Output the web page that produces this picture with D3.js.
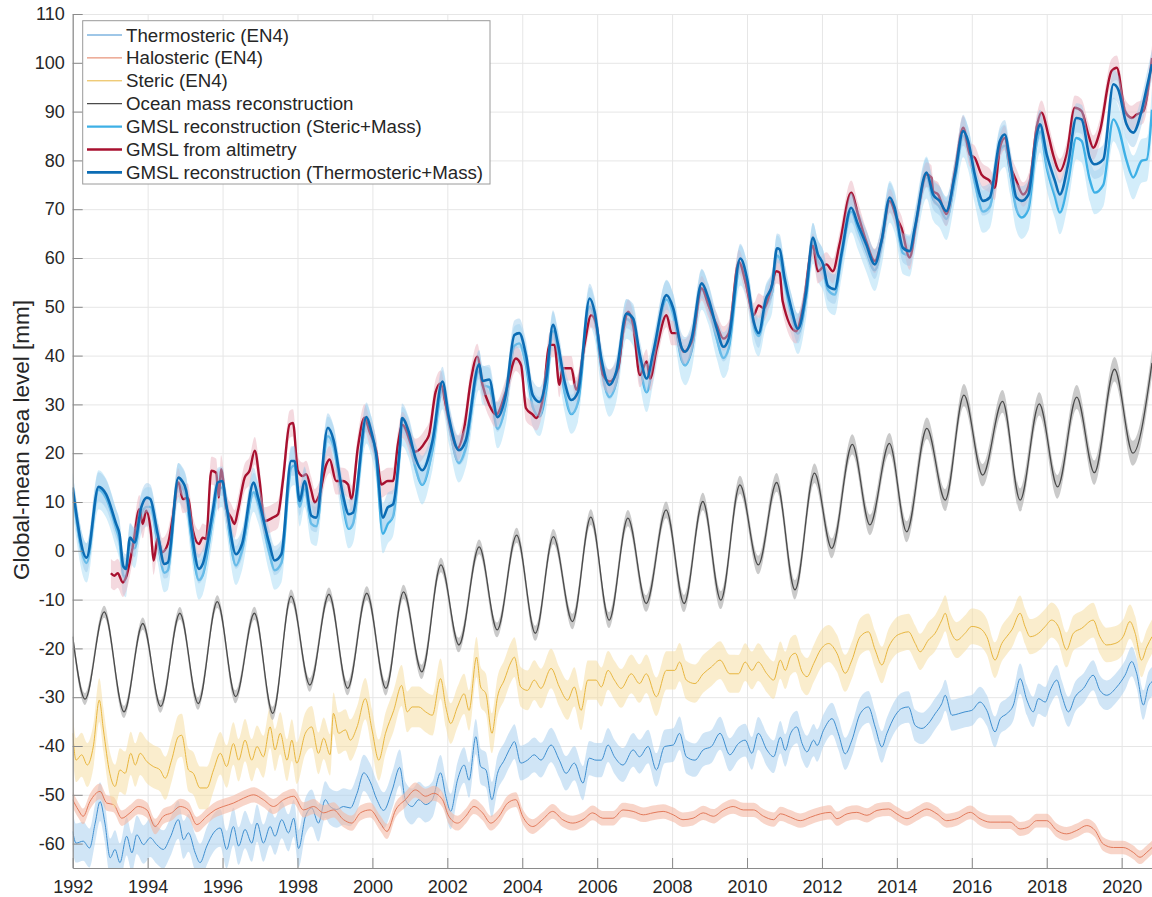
<!DOCTYPE html>
<html>
<head>
<meta charset="utf-8">
<script src="https://cdn.jsdelivr.net/npm/d3@7"></script>
<style>
  body { margin: 0; background: #fff; }
  svg { display: block; font-family: "Liberation Sans", Arial, Helvetica, sans-serif; }
</style>
</head>
<body>
<svg width="1152" height="897"></svg>
<script>
// ===========================================================================
// DATA  (decimal year, mm)
// ===========================================================================
const xTicks = [1992, 1994, 1996, 1998, 2000, 2002, 2004, 2006, 2008, 2010, 2012, 2014, 2016, 2018, 2020];
const yTicks = [-60, -50, -40, -30, -20, -10, 0, 10, 20, 30, 40, 50, 60, 70, 80, 90, 100, 110];

const thermosteric = [
  [1992.0,-57.5],[1992.09,-59.9],[1992.28,-59.5],[1992.45,-60.9],[1992.6,-55.8],[1992.73,-51.4],[1992.86,-55.8],
  [1993.0,-62.9],[1993.13,-61.2],[1993.26,-63.9],[1993.44,-58.5],[1993.58,-61.9],[1993.71,-58.2],[1993.89,-60.2],
  [1994.07,-58.8],[1994.24,-60.2],[1994.42,-61.2],[1994.6,-58.8],[1994.82,-55.1],[1994.96,-59.2],[1995.09,-57.8],
  [1995.27,-61.9],[1995.4,-63.9],[1995.58,-60.5],[1995.76,-57.8],[1995.94,-56.8],[1996.11,-61.2],[1996.29,-56.5],
  [1996.43,-60.5],[1996.6,-57.1],[1996.78,-59.9],[1996.92,-55.8],[1997.09,-59.9],[1997.27,-56.5],[1997.4,-58.5],
  [1997.58,-55.1],[1997.76,-57.8],[1997.9,-54.8],[1998.03,-61.0],[1998.21,-54.5],[1998.38,-52.7],[1998.56,-55.8],
  [1998.74,-51.0],[1998.87,-52.4],[1999.05,-53.0],[1999.23,-52.4],[1999.41,-52.7],[1999.59,-49.7],[1999.77,-45.5],
  [1999.94,-47.3],[2000.12,-51.0],[2000.3,-53.2],[2000.53,-49.0],[2000.73,-44.4],[2000.88,-51.0],[2001.06,-52.4],
  [2001.24,-51.0],[2001.42,-52.0],[2001.6,-51.0],[2001.82,-45.5],[2001.96,-50.3],[2002.09,-53.4],[2002.27,-47.0],
  [2002.45,-43.9],[2002.58,-47.0],[2002.76,-38.1],[2002.89,-44.2],[2003.03,-44.9],[2003.19,-51.0],[2003.34,-45.6],
  [2003.52,-42.9],[2003.7,-40.1],[2003.79,-39.1],[2003.96,-43.5],[2004.14,-42.9],[2004.32,-41.8],[2004.5,-42.9],
  [2004.77,-39.8],[2004.99,-42.9],[2005.17,-45.6],[2005.39,-43.5],[2005.62,-47.6],[2005.79,-42.5],[2005.97,-42.9],
  [2006.11,-42.9],[2006.29,-39.8],[2006.46,-42.2],[2006.69,-43.9],[2006.96,-40.8],[2007.13,-42.2],[2007.36,-40.1],
  [2007.58,-44.9],[2007.8,-40.1],[2008.03,-39.8],[2008.2,-37.4],[2008.38,-42.2],[2008.61,-42.9],[2008.83,-40.8],
  [2009.05,-40.1],[2009.28,-37.4],[2009.54,-41.8],[2009.77,-39.5],[2009.95,-38.8],[2010.13,-41.5],[2010.3,-37.4],
  [2010.53,-40.8],[2010.71,-42.2],[2010.89,-38.2],[2011.02,-40.9],[2011.16,-37.5],[2011.33,-36.1],[2011.47,-39.5],
  [2011.6,-41.2],[2011.78,-38.8],[2011.87,-39.9],[2012.04,-36.8],[2012.27,-34.4],[2012.44,-37.5],[2012.62,-41.6],
  [2012.8,-38.8],[2013.02,-33.4],[2013.24,-32.0],[2013.42,-36.1],[2013.6,-40.2],[2013.73,-37.5],[2013.96,-33.7],
  [2014.13,-32.3],[2014.31,-32.0],[2014.49,-35.8],[2014.67,-36.4],[2014.84,-35.4],[2015.02,-33.4],[2015.2,-31.3],
  [2015.29,-29.6],[2015.47,-33.7],[2015.64,-33.4],[2015.82,-33.0],[2016.0,-32.7],[2016.22,-31.0],[2016.4,-32.7],
  [2016.62,-37.1],[2016.76,-34.4],[2016.93,-33.4],[2017.11,-31.6],[2017.29,-26.2],[2017.47,-30.6],[2017.64,-33.0],
  [2017.78,-30.3],[2017.96,-31.0],[2018.09,-28.6],[2018.27,-26.5],[2018.4,-29.6],[2018.58,-33.0],[2018.76,-29.9],
  [2018.98,-28.2],[2019.24,-25.5],[2019.42,-28.6],[2019.6,-29.6],[2019.87,-27.9],[2020.09,-25.5],[2020.27,-22.7],
  [2020.4,-25.1],[2020.58,-31.6],[2020.71,-27.9],[2020.81,-26.8]
];

const halosteric = [
  [1992.0,-51.0],[1992.15,-53.1],[1992.28,-54.4],[1992.46,-51.4],[1992.73,-49.3],[1992.91,-51.7],[1993.09,-52.0],
  [1993.31,-54.8],[1993.53,-53.7],[1993.75,-52.4],[1993.98,-53.1],[1994.2,-56.5],[1994.42,-54.4],[1994.64,-53.7],
  [1994.87,-52.4],[1995.09,-53.1],[1995.31,-56.1],[1995.58,-54.4],[1995.8,-53.1],[1996.02,-52.4],[1996.29,-51.7],
  [1996.56,-50.7],[1996.83,-50.0],[1997.09,-51.0],[1997.36,-52.4],[1997.63,-51.0],[1997.9,-50.3],[1998.16,-53.1],
  [1998.43,-52.4],[1998.7,-53.7],[1998.96,-53.1],[1999.23,-55.1],[1999.45,-55.8],[1999.68,-53.7],[1999.94,-53.1],
  [2000.21,-55.8],[2000.39,-57.5],[2000.62,-53.1],[2000.88,-51.0],[2001.15,-49.0],[2001.42,-50.3],[2001.64,-49.7],
  [2001.87,-51.0],[2002.04,-54.4],[2002.27,-55.8],[2002.49,-54.4],[2002.71,-52.4],[2002.94,-53.7],[2003.16,-55.8],
  [2003.38,-54.4],[2003.61,-51.7],[2003.83,-51.0],[2004.01,-54.4],[2004.28,-56.5],[2004.54,-55.1],[2004.81,-53.4],
  [2005.08,-55.1],[2005.35,-55.8],[2005.62,-55.1],[2005.88,-53.7],[2006.15,-54.8],[2006.42,-54.8],[2006.69,-53.1],
  [2006.96,-53.4],[2007.23,-54.1],[2007.49,-53.7],[2007.76,-53.4],[2008.03,-54.1],[2008.29,-55.1],[2008.56,-54.8],
  [2008.83,-53.7],[2009.1,-54.4],[2009.37,-53.1],[2009.63,-52.4],[2009.9,-53.1],[2010.17,-53.1],[2010.44,-54.4],
  [2010.71,-55.1],[2010.89,-53.9],[2011.16,-54.6],[2011.42,-55.3],[2011.69,-54.6],[2011.96,-53.9],[2012.22,-53.6],
  [2012.4,-54.9],[2012.67,-53.9],[2012.93,-53.6],[2013.2,-54.2],[2013.47,-53.2],[2013.78,-52.9],[2014.0,-53.9],
  [2014.27,-54.9],[2014.53,-53.9],[2014.8,-52.9],[2015.07,-53.9],[2015.33,-55.3],[2015.6,-54.9],[2015.96,-53.6],
  [2016.22,-54.9],[2016.49,-55.6],[2016.76,-55.6],[2017.02,-55.6],[2017.29,-57.0],[2017.51,-56.6],[2017.73,-55.3],
  [2018.0,-55.3],[2018.27,-57.3],[2018.53,-58.0],[2018.8,-57.3],[2019.07,-56.3],[2019.29,-57.3],[2019.51,-60.1],
  [2019.78,-60.8],[2020.04,-60.8],[2020.31,-61.8],[2020.49,-62.8],[2020.67,-61.8],[2020.81,-60.8]
];

const steric = [
  [1992.0,-37.4],[1992.09,-42.9],[1992.24,-41.8],[1992.39,-43.9],[1992.55,-40.1],[1992.71,-30.6],[1992.82,-36.7],
  [1992.99,-45.6],[1993.13,-48.3],[1993.26,-44.9],[1993.4,-45.6],[1993.55,-41.5],[1993.67,-43.9],[1993.8,-41.5],
  [1993.98,-43.2],[1994.15,-44.2],[1994.33,-44.9],[1994.47,-46.6],[1994.64,-42.9],[1994.82,-38.1],[1994.91,-37.8],
  [1995.09,-44.9],[1995.22,-45.6],[1995.4,-48.6],[1995.58,-48.6],[1995.76,-44.9],[1995.94,-41.5],[1996.11,-44.2],
  [1996.29,-39.5],[1996.43,-42.9],[1996.6,-38.8],[1996.78,-42.9],[1996.92,-40.1],[1997.09,-42.2],[1997.27,-36.1],
  [1997.4,-40.8],[1997.54,-37.4],[1997.72,-42.9],[1997.85,-38.8],[1997.98,-43.5],[1998.21,-37.4],[1998.38,-36.1],
  [1998.56,-41.5],[1998.7,-38.4],[1998.87,-41.8],[1998.96,-33.3],[1999.1,-37.4],[1999.28,-36.7],[1999.41,-38.8],
  [1999.59,-36.1],[1999.81,-30.3],[1999.99,-36.7],[2000.17,-42.9],[2000.35,-37.4],[2000.57,-32.7],[2000.78,-27.6],
  [2000.93,-33.0],[2001.06,-32.0],[2001.24,-32.0],[2001.42,-33.0],[2001.6,-33.7],[2001.82,-26.2],[2001.96,-32.0],
  [2002.09,-35.4],[2002.27,-32.0],[2002.45,-29.3],[2002.58,-32.7],[2002.78,-21.8],[2002.89,-27.9],[2003.03,-29.3],
  [2003.19,-37.4],[2003.34,-29.9],[2003.52,-26.5],[2003.7,-22.8],[2003.79,-21.8],[2003.96,-27.9],[2004.14,-28.6],
  [2004.32,-26.5],[2004.5,-28.2],[2004.77,-24.1],[2004.99,-27.9],[2005.21,-30.6],[2005.39,-27.9],[2005.57,-32.7],
  [2005.75,-26.5],[2005.97,-26.5],[2006.11,-27.9],[2006.29,-24.5],[2006.46,-26.5],[2006.64,-28.2],[2006.91,-25.2],
  [2007.13,-27.2],[2007.31,-25.2],[2007.58,-29.9],[2007.85,-24.5],[2008.07,-24.5],[2008.2,-22.8],[2008.38,-26.5],
  [2008.61,-27.2],[2008.83,-25.2],[2009.05,-23.8],[2009.28,-22.4],[2009.54,-25.2],[2009.77,-25.2],[2009.95,-22.8],
  [2010.13,-24.5],[2010.3,-22.8],[2010.53,-25.2],[2010.71,-26.5],[2010.89,-22.4],[2011.02,-24.5],[2011.16,-21.7],
  [2011.29,-21.0],[2011.47,-24.8],[2011.6,-25.8],[2011.78,-23.1],[2011.96,-20.3],[2012.18,-19.0],[2012.4,-21.0],
  [2012.62,-25.1],[2012.8,-22.4],[2013.02,-17.6],[2013.24,-16.6],[2013.42,-20.3],[2013.6,-23.4],[2013.78,-19.7],
  [2013.96,-17.6],[2014.13,-16.9],[2014.31,-16.6],[2014.49,-19.0],[2014.62,-20.7],[2014.84,-18.3],[2015.02,-16.9],
  [2015.2,-14.2],[2015.29,-12.8],[2015.42,-16.2],[2015.6,-18.3],[2015.82,-16.9],[2016.0,-15.5],[2016.22,-15.9],
  [2016.4,-17.6],[2016.62,-22.4],[2016.8,-19.0],[2016.93,-17.6],[2017.07,-16.2],[2017.29,-12.8],[2017.42,-15.5],
  [2017.56,-17.6],[2017.78,-16.9],[2017.96,-15.5],[2018.13,-14.2],[2018.31,-15.5],[2018.53,-20.3],[2018.71,-16.9],
  [2018.93,-15.9],[2019.24,-14.2],[2019.42,-17.6],[2019.6,-19.3],[2019.82,-19.0],[2020.04,-17.6],[2020.22,-14.5],
  [2020.36,-16.9],[2020.53,-22.4],[2020.67,-19.7],[2020.81,-17.6]
];

const oceanMass = [
  [1992.0,-17.6],[1992.33,-30.4],[1992.84,-12.5],[1993.37,-33.0],[1993.87,-14.9],[1994.35,-31.9],[1994.86,-12.8],
  [1995.35,-31.3],[1995.86,-10.4],[1996.35,-29.9],[1996.85,-12.8],[1997.34,-33.3],[1997.83,-9.3],[1998.33,-27.5],
  [1998.84,-8.9],[1999.34,-28.2],[1999.85,-8.7],[2000.36,-28.2],[2000.83,-8.4],[2001.32,-24.8],[2001.83,-2.9],
  [2002.31,-19.3],[2002.85,0.8],[2003.33,-16.2],[2003.85,3.2],[2004.35,-16.9],[2004.83,2.9],[2005.34,-14.5],
  [2005.83,6.9],[2006.32,-14.2],[2006.82,6.7],[2007.31,-10.8],[2007.84,8.4],[2008.32,-10.8],[2008.82,10.1],
  [2009.3,-10.1],[2009.81,13.5],[2010.3,-2.9],[2010.79,14.0],[2011.28,-8.0],[2011.8,15.9],[2012.26,0.5],
  [2012.81,21.8],[2013.28,5.3],[2013.8,22.0],[2014.26,3.9],[2014.8,25.1],[2015.29,10.4],[2015.79,31.9],
  [2016.29,15.5],[2016.82,30.6],[2017.29,10.4],[2017.8,30.1],[2018.29,13.1],[2018.8,31.5],[2019.27,16.0],
  [2019.81,37.2],[2020.3,20.0],[2020.81,38.5]
];

const gmslStericMass = [
  [1992.0,12.0],[1992.37,-2.5],[1992.69,12.5],[1992.89,10.8],[1993.16,4.5],[1993.25,2.0],[1993.35,-5.0],[1993.42,-5.5],
  [1993.53,1.5],[1993.65,0.5],[1993.83,7.5],[1993.98,9.0],[1994.07,9.0],[1994.27,1.5],[1994.45,-4.5],[1994.54,-4.0],
  [1994.82,14.0],[1994.92,13.0],[1995.03,11.0],[1995.16,3.0],[1995.37,-6.0],[1995.47,-5.0],[1995.74,6.5],[1995.87,12.5],
  [1995.99,13.0],[1996.1,8.0],[1996.36,-3.0],[1996.52,0.0],[1996.83,12.0],[1996.94,10.0],[1997.25,-0.5],[1997.39,-4.0],
  [1997.57,-2.5],[1997.83,17.0],[1997.92,17.5],[1998.06,9.0],[1998.19,13.0],[1998.37,5.5],[1998.5,5.0],[1998.81,23.5],
  [1998.96,21.5],[1999.21,9.5],[1999.37,4.5],[1999.48,5.5],[1999.84,26.0],[1999.97,23.5],[2000.1,18.5],[2000.28,3.5],
  [2000.41,5.5],[2000.55,7.0],[2000.73,20.0],[2000.79,25.5],[2000.97,23.0],[2001.15,17.0],[2001.33,13.5],[2001.6,20.5],
  [2001.87,33.0],[2002.04,26.0],[2002.31,18.0],[2002.49,21.0],[2002.85,37.0],[2002.94,34.0],[2003.12,33.5],[2003.34,25.0],
  [2003.56,30.0],[2003.79,42.0],[2003.92,42.5],[2004.1,38.0],[2004.28,29.5],[2004.46,27.5],[2004.64,33.0],[2004.82,45.0],
  [2004.95,41.0],[2005.13,32.5],[2005.31,28.0],[2005.49,30.5],[2005.8,50.0],[2005.93,47.5],[2006.11,37.5],[2006.33,31.5],
  [2006.51,34.5],[2006.78,47.5],[2006.96,46.0],[2007.14,38.0],[2007.32,32.5],[2007.5,38.5],[2007.85,51.5],[2008.03,48.5],
  [2008.26,39.0],[2008.35,38.0],[2008.52,41.0],[2008.79,53.5],[2008.97,50.5],[2009.19,43.5],[2009.37,39.5],[2009.51,41.5],
  [2009.82,58.5],[2010.0,55.0],[2010.18,46.0],[2010.31,44.0],[2010.5,50.0],[2010.67,53.0],[2010.8,60.5],[2010.87,60.0],
  [2011.0,55.0],[2011.18,48.5],[2011.36,44.5],[2011.58,52.0],[2011.76,63.0],[2011.89,59.5],[2012.03,57.5],[2012.16,53.5],
  [2012.34,52.5],[2012.52,60.0],[2012.78,69.5],[2012.96,66.0],[2013.18,61.5],[2013.41,57.5],[2013.59,62.5],[2013.81,71.5],
  [2013.94,69.5],[2014.16,61.0],[2014.34,60.5],[2014.48,65.5],[2014.79,76.5],[2014.97,72.0],[2015.14,70.5],[2015.32,68.0],
  [2015.55,76.0],[2015.77,85.0],[2015.9,82.5],[2016.08,75.5],[2016.3,69.5],[2016.48,70.5],[2016.75,82.0],[2016.88,83.0],
  [2017.02,77.5],[2017.19,70.0],[2017.33,68.3],[2017.51,70.0],[2017.73,83.5],[2017.82,86.0],[2018.0,78.5],[2018.22,72.5],
  [2018.35,69.3],[2018.57,75.5],[2018.79,84.6],[2018.93,84.0],[2019.15,76.0],[2019.28,73.4],[2019.51,75.0],[2019.78,88.4],
  [2019.91,86.7],[2020.13,80.0],[2020.31,76.5],[2020.53,79.9],[2020.67,80.2],[2020.81,90.4]
];

const gmslAltimetry = [
  [1993.02,-4.6],[1993.11,-5.1],[1993.2,-4.6],[1993.34,-6.5],[1993.42,-5.5],[1993.6,0.7],[1993.78,8.5],[1993.87,5.5],
  [1993.96,8.2],[1994.09,3.7],[1994.16,-2.0],[1994.27,2.7],[1994.39,-0.3],[1994.54,1.4],[1994.67,6.8],[1994.82,14.0],
  [1994.94,10.6],[1995.07,10.9],[1995.21,4.1],[1995.37,1.4],[1995.47,2.7],[1995.56,2.4],[1995.7,16.4],[1995.83,16.0],
  [1995.9,10.9],[1995.96,16.7],[1996.1,8.9],[1996.23,6.8],[1996.32,5.5],[1996.41,8.2],[1996.59,15.0],[1996.72,16.4],
  [1996.86,20.5],[1996.99,14.3],[1997.12,6.1],[1997.34,6.8],[1997.48,7.5],[1997.61,14.3],[1997.79,25.9],[1997.88,26.2],
  [1998.01,16.4],[1998.14,15.3],[1998.23,15.7],[1998.37,12.3],[1998.46,9.9],[1998.59,11.6],[1998.77,17.7],[1998.86,18.7],
  [1999.03,14.3],[1999.21,14.3],[1999.35,13.6],[1999.44,10.6],[1999.61,21.1],[1999.79,27.3],[1999.92,24.5],[2000.1,20.5],
  [2000.24,13.6],[2000.41,14.3],[2000.55,14.3],[2000.68,21.8],[2000.8,25.8],[2001.15,20.3],[2001.42,22.4],[2001.51,23.7],
  [2001.69,32.6],[2001.82,34.3],[2001.96,29.9],[2002.09,25.1],[2002.27,21.0],[2002.45,25.1],[2002.63,35.0],[2002.8,39.8],
  [2002.94,34.0],[2003.12,29.9],[2003.3,27.9],[2003.56,32.6],[2003.83,39.4],[2003.97,38.0],[2004.1,29.2],[2004.28,27.9],
  [2004.37,27.2],[2004.55,31.3],[2004.73,42.2],[2004.86,42.2],[2004.99,34.0],[2005.08,37.4],[2005.31,37.4],[2005.44,33.0],
  [2005.66,42.2],[2005.84,48.3],[2005.98,46.3],[2006.16,36.0],[2006.33,34.7],[2006.56,37.4],[2006.69,44.9],[2006.83,49.0],
  [2006.96,46.3],[2007.14,36.0],[2007.32,38.8],[2007.41,35.3],[2007.59,41.5],[2007.85,48.3],[2007.99,44.6],[2008.12,44.6],
  [2008.3,40.8],[2008.52,42.8],[2008.79,53.8],[2008.97,50.3],[2009.19,46.3],[2009.37,43.5],[2009.51,44.6],[2009.78,59.2],
  [2009.96,55.1],[2010.18,48.3],[2010.31,50.3],[2010.45,49.7],[2010.62,53.1],[2010.78,57.3],[2010.87,57.0],[2010.95,51.2],
  [2011.31,45.0],[2011.49,49.8],[2011.76,62.5],[2011.89,57.3],[2012.12,58.7],[2012.29,57.3],[2012.47,62.8],[2012.78,73.4],
  [2012.96,69.0],[2013.18,63.5],[2013.41,59.4],[2013.59,63.5],[2013.81,71.7],[2013.99,68.3],[2014.12,66.2],[2014.34,60.1],
  [2014.52,67.6],[2014.79,77.1],[2014.92,76.5],[2014.97,73.7],[2015.1,73.0],[2015.32,69.0],[2015.55,77.8],[2015.77,86.7],
  [2015.95,81.2],[2016.08,80.5],[2016.26,77.1],[2016.48,75.8],[2016.61,74.4],[2016.75,82.6],[2016.88,84.6],[2017.02,79.2],
  [2017.19,75.8],[2017.37,73.0],[2017.55,75.8],[2017.73,86.7],[2017.86,89.8],[2018.04,85.3],[2018.17,81.2],[2018.35,77.8],
  [2018.53,81.2],[2018.75,90.8],[2018.93,90.1],[2019.11,85.3],[2019.24,82.6],[2019.42,86.0],[2019.73,98.3],[2019.87,99.0],
  [2020.09,90.1],[2020.27,88.7],[2020.4,89.4],[2020.58,90.1],[2020.81,101.0]
];

const gmslThermoMass = [
  [1992.0,13.0],[1992.37,-1.4],[1992.69,13.1],[1992.89,11.6],[1993.16,5.5],[1993.25,3.4],[1993.35,-3.1],[1993.42,-3.7],
  [1993.53,2.7],[1993.65,1.7],[1993.83,8.9],[1993.98,10.9],[1994.07,10.6],[1994.27,3.4],[1994.45,-2.7],[1994.54,-2.4],
  [1994.82,15.0],[1994.92,14.3],[1995.03,12.3],[1995.16,4.8],[1995.37,-3.7],[1995.47,-2.7],[1995.74,8.2],[1995.87,14.0],
  [1995.99,14.3],[1996.1,9.5],[1996.36,-0.7],[1996.52,1.4],[1996.83,14.0],[1996.94,11.2],[1997.25,1.4],[1997.39,-2.0],
  [1997.57,-0.7],[1997.83,18.4],[1997.92,18.4],[1998.06,10.2],[1998.19,14.3],[1998.37,7.2],[1998.5,6.8],[1998.81,25.2],
  [1998.96,22.8],[1999.21,11.6],[1999.37,7.5],[1999.48,7.8],[1999.84,27.4],[1999.97,24.5],[2000.1,19.8],[2000.28,6.8],
  [2000.41,8.9],[2000.55,9.5],[2000.73,21.1],[2000.79,27.2],[2000.97,24.4],[2001.15,19.0],[2001.33,16.5],[2001.6,22.4],
  [2001.87,34.7],[2002.04,27.4],[2002.31,20.6],[2002.49,22.6],[2002.85,38.2],[2002.94,34.8],[2003.12,35.1],[2003.34,27.4],
  [2003.56,32.0],[2003.79,44.2],[2003.92,44.6],[2004.1,40.1],[2004.28,31.9],[2004.46,30.5],[2004.64,35.3],[2004.82,46.3],
  [2004.95,42.5],[2005.13,34.7],[2005.31,30.9],[2005.49,32.6],[2005.8,51.7],[2005.93,49.0],[2006.11,39.4],[2006.33,34.0],
  [2006.51,36.7],[2006.78,48.6],[2006.96,47.6],[2007.14,40.1],[2007.32,35.3],[2007.5,40.8],[2007.85,52.4],[2008.03,49.7],
  [2008.26,41.5],[2008.35,40.8],[2008.52,43.5],[2008.79,54.8],[2008.97,51.7],[2009.19,45.6],[2009.37,41.8],[2009.51,43.5],
  [2009.82,59.9],[2010.0,55.8],[2010.18,46.9],[2010.31,44.6],[2010.5,51.5],[2010.67,54.5],[2010.8,62.0],[2010.87,61.8],
  [2011.0,56.0],[2011.18,49.8],[2011.36,45.5],[2011.58,53.2],[2011.76,64.2],[2011.89,60.8],[2012.03,58.7],[2012.16,54.3],
  [2012.34,53.6],[2012.52,60.8],[2012.78,70.3],[2012.96,66.9],[2013.18,62.8],[2013.41,58.7],[2013.59,63.5],[2013.81,72.4],
  [2013.94,70.3],[2014.16,62.1],[2014.34,61.4],[2014.48,66.2],[2014.79,77.5],[2014.97,73.0],[2015.14,71.7],[2015.32,69.6],
  [2015.55,77.1],[2015.77,86.0],[2015.9,84.0],[2016.08,77.1],[2016.3,71.7],[2016.48,72.4],[2016.75,84.0],[2016.88,85.3],
  [2017.02,79.9],[2017.19,72.4],[2017.33,71.7],[2017.51,73.0],[2017.73,85.3],[2017.82,87.4],[2018.0,81.2],[2018.22,75.8],
  [2018.35,73.0],[2018.57,79.2],[2018.79,88.7],[2018.93,88.4],[2019.15,80.5],[2019.28,79.2],[2019.51,80.2],[2019.78,95.6],
  [2019.91,94.5],[2020.13,87.4],[2020.31,85.7],[2020.53,90.1],[2020.67,94.9],[2020.81,99.7]
];

// 1-sigma half width of the shaded bands (mm) at these years
const sigmaYears = [1992, 2006, 2020.81];
const thermostericSigma = [4.0, 3.5, 3.0];
const halostericSigma = [1.6, 1.5, 1.4];
const stericSigma = [4.5, 4.0, 3.5];
const oceanMassSigma = [1.2, 1.6, 2.6];
const gmslStericMassSigma = [4.0, 4.0, 4.5];
const gmslAltimetrySigma = [3.0, 2.5, 2.5];
const gmslThermoMassSigma = [3.0, 3.0, 3.0];

const seriesNames = [
  "Thermosteric (EN4)",
  "Halosteric (EN4)",
  "Steric (EN4)",
  "Ocean mass reconstruction",
  "GMSL reconstruction (Steric+Mass)",
  "GMSL from altimetry",
  "GMSL reconstruction (Thermosteric+Mass)"
];
const seriesData = [thermosteric, halosteric, steric, oceanMass, gmslStericMass, gmslAltimetry, gmslThermoMass];
const seriesSigma = [thermostericSigma, halostericSigma, stericSigma, oceanMassSigma, gmslStericMassSigma, gmslAltimetrySigma, gmslThermoMassSigma];
const lineColors = ["#3f8fd0", "#e27a5b", "#e8b63f", "#4a4a4a", "#3eb0e6", "#a8102f", "#0b6cb4"];
const bandColors = ["#a9d0ee", "#f3b9a5", "#f5dc9c", "#b3b3b3", "#a8dcf5", "#e9b4c0", "#9cc9ea"];
const bandOpacity = [0.55, 0.6, 0.5, 0.7, 0.5, 0.5, 0.45];
const lineWidths = [1, 1, 1, 1.3, 2.4, 2.4, 2.6];

// ===========================================================================
// SETUP
// ===========================================================================
var svg = d3.select("svg"),
  plotLeft = 72.7,
  plotRight = 1152,
  plotTop = 14,
  plotBottom = 868;

var x = d3.scaleLinear().domain([1992, 2020.81]).range([plotLeft, plotRight]);
var y = d3.scaleLinear().domain([-65, 110]).range([plotBottom, plotTop]);

svg.append("defs").append("clipPath").attr("id", "plot-clip")
  .append("rect")
  .attr("x", plotLeft).attr("y", plotTop)
  .attr("width", plotRight - plotLeft).attr("height", plotBottom - plotTop);

// ===========================================================================
// GRID
// ===========================================================================
var grid = svg.append("g").attr("class", "grid");

grid.append("g")
  .attr("transform", "translate(0," + plotBottom + ")")
  .call(d3.axisBottom(x).tickValues(xTicks).tickSize(-(plotBottom - plotTop)).tickFormat(""));

grid.append("g")
  .attr("transform", "translate(" + plotLeft + ",0)")
  .call(d3.axisLeft(y).tickValues(yTicks).tickSize(-(plotRight - plotLeft)).tickFormat(""));

grid.selectAll(".domain").remove();
grid.selectAll("line").attr("stroke", "#e6e6e6").attr("stroke-width", 1);

// ===========================================================================
// SERIES
// ===========================================================================
var plot = svg.append("g").attr("clip-path", "url(#plot-clip)");

seriesData.forEach((data, i) => {
  var sigma = d3.scaleLinear().domain(sigmaYears).range(seriesSigma[i]);
  var curve = d3.curveMonotoneX;

  var band = d3.area()
    .curve(curve)
    .x((d) => x(d[0]))
    .y0((d) => y(d[1] - sigma(d[0])))
    .y1((d) => y(d[1] + sigma(d[0])));

  var line = d3.line()
    .curve(curve)
    .x((d) => x(d[0]))
    .y((d) => y(d[1]));

  plot.append("path")
    .datum(data)
    .attr("d", band)
    .attr("fill", bandColors[i])
    .attr("fill-opacity", bandOpacity[i])
    .attr("stroke", "none");

  plot.append("path")
    .datum(data)
    .attr("d", line)
    .attr("fill", "none")
    .attr("stroke", lineColors[i])
    .attr("stroke-width", lineWidths[i])
    .attr("stroke-linejoin", "round");
});

// ===========================================================================
// AXES
// ===========================================================================
var xAxis = svg.append("g")
  .attr("transform", "translate(0," + plotBottom + ")")
  .call(d3.axisBottom(x).tickValues(xTicks).tickFormat((d) => String(d))
    .tickSizeInner(-10).tickSizeOuter(0).tickPadding(12));

// plain hyphen for negatives, as in the original
var yAxis = svg.append("g")
  .attr("transform", "translate(" + plotLeft + ",0)")
  .call(d3.axisLeft(y).tickValues(yTicks).tickFormat((d) => String(d))
    .tickSizeInner(-10).tickSizeOuter(0).tickPadding(8));

[xAxis, yAxis].forEach((ax) => {
  ax.select(".domain").attr("stroke", "#8a8a8a").attr("stroke-width", 1.2);
  ax.selectAll(".tick line").attr("stroke", "#8a8a8a");
  ax.selectAll(".tick text")
    .attr("fill", "#262626")
    .style("font-size", "18px")
    .style("font-family", "'Liberation Sans', Arial, sans-serif");
});

// ===========================================================================
// LABELS
// ===========================================================================
svg.append("text")
  .attr("transform", "translate(21,440) rotate(-90)")
  .attr("text-anchor", "middle")
  .attr("dy", "0.35em")
  .attr("fill", "#262626")
  .style("font-size", "22.5px")
  .text("Global-mean sea level [mm]");

// ===========================================================================
// LEGEND
// ===========================================================================
var legend = svg.append("g").attr("class", "legend");

legend.append("rect")
  .attr("x", 82.7).attr("y", 20.7)
  .attr("width", 407.3).attr("height", 163.3)
  .attr("fill", "#fff")
  .attr("stroke", "#9a9a9a")
  .attr("stroke-width", 1);

seriesNames.forEach((name, i) => {
  var ly = 35 + i * 22.9;
  legend.append("line")
    .attr("x1", 87).attr("x2", 122)
    .attr("y1", ly).attr("y2", ly)
    .attr("stroke", lineColors[i])
    .attr("stroke-width", lineWidths[i]);
  legend.append("text")
    .attr("x", 126).attr("y", ly)
    .attr("dy", "0.35em")
    .attr("fill", "#262626")
    .style("font-size", "18.7px")
    .text(name);
});
</script>
</body>
</html>
